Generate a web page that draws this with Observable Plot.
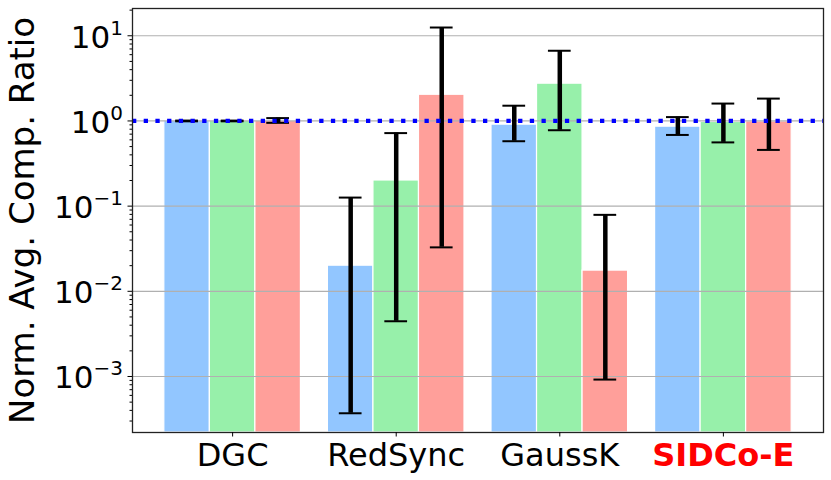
<!DOCTYPE html>
<html><head><meta charset="utf-8">
<script src="https://cdn.jsdelivr.net/npm/d3@7"></script>
<script src="https://cdn.jsdelivr.net/npm/@observablehq/plot@0.6"></script>
<style>body{margin:0;background:#fff;}</style>
</head><body><div id="chart"></div>
<script>
// ---- data ----
const groups = ["DGC", "RedSync", "GaussK", "SIDCo-E"];
const highlightGroup = "SIDCo-E";
const seriesNames = ["Series A", "Series B", "Series C"];
const seriesColors = ["#92C6FF", "#97F0AA", "#FF9F9A"];
const valuesA = [1.0, 0.02, 0.905, 0.857];
const valuesB = [1.0, 0.2, 2.74, 0.973];
const valuesC = [1.0, 2.03, 0.0175, 0.99];
const lowA = [0.99, 0.00037, 0.578, 0.685];
const highA = [1.01, 0.126, 1.51, 1.11];
const lowB = [0.99, 0.00445, 0.778, 0.56];
const highB = [1.01, 0.72, 6.67, 1.6];
const lowC = [0.95, 0.0328, 0.00092, 0.457];
const highC = [1.08, 12.5, 0.079, 1.83];
const yMajorTicks = [1e-3, 1e-2, 1e-1, 1e0, 1e1];
const referenceLevel = 1;
const yLabel = "Norm. Avg. Comp. Ratio";

// ---- build table ----
const seriesValues = [valuesA, valuesB, valuesC];
const seriesLow = [lowA, lowB, lowC];
const seriesHigh = [highA, highB, highC];
const rows = [];
groups.forEach((g, gi) => {
  seriesNames.forEach((s, si) => {
    rows.push({group: g, gi, series: s, si, value: seriesValues[si][gi], low: seriesLow[si][gi], high: seriesHigh[si][gi]});
  });
});

const yDomain = [2.2e-4, 20.9];
const step = 0.2783;
const capHalf = 0.0695;
const center = d => d.gi + (d.si - 1) * step;
const minorTicks = [];
for (let e = -4; e <= 1; e++) for (let m = 2; m <= 9; m++) {
  const v = m * Math.pow(10, e);
  if (v >= yDomain[0] && v <= yDomain[1]) minorTicks.push(v);
}

const chart = Plot.plot({
  width: 831,
  height: 480,
  marginLeft: 132,
  marginRight: 8,
  marginTop: 8,
  marginBottom: 48,
  style: {fontFamily: "DejaVu Sans", background: "white", color: "black"},
  x: {type: "linear", domain: [-0.612, groups.length - 1 + 0.612], axis: null},
  y: {type: "log", domain: yDomain, axis: null},
  color: {domain: seriesNames, range: seriesColors},
  marks: [
    Plot.rectY(rows, {
      x1: d => center(d) - step / 2,
      x2: d => center(d) + step / 2,
      y1: yDomain[0],
      y2: "value",
      fill: "series",
      stroke: "white",
      strokeWidth: 1.2
    }),
    Plot.gridY({ticks: yMajorTicks, stroke: "#b0b0b0", strokeOpacity: 1, strokeWidth: 1.2}),
    Plot.ruleX(rows, {x: center, y1: "low", y2: "high", stroke: "black", strokeWidth: 4.5}),
    Plot.ruleY(rows, {x1: d => center(d) - capHalf, x2: d => center(d) + capHalf, y: "low", stroke: "black", strokeWidth: 2}),
    Plot.ruleY(rows, {x1: d => center(d) - capHalf, x2: d => center(d) + capHalf, y: "high", stroke: "black", strokeWidth: 2}),
    Plot.ruleY([referenceLevel], {stroke: "#0000ff", strokeWidth: 4.3, strokeDasharray: "4.3,7.4"}),
    Plot.frame({stroke: "#222", strokeWidth: 1.3}),
    Plot.axisX({ticks: groups.map((_, i) => i), tickFormat: i => groups[i], tickSize: 4.5, tickPadding: 6, fontSize: 32, label: null, stroke: "black"}),
    Plot.axisY({ticks: yMajorTicks, tickSize: 4.5, tickPadding: 5, fontSize: 31, label: null,
      tickFormat: d => String(Math.round(Math.log10(d)))}),
    Plot.axisY({ticks: minorTicks, tickSize: 2.5, tickFormat: () => "", label: null}),
    Plot.text([yLabel], {text: d => d, frameAnchor: "left", rotate: -90, dx: -99, lineAnchor: "bottom", textAnchor: "middle", fontSize: 34, fill: "black"})
  ]
});

const svgSel = d3.select(chart);
svgSel.selectAll('g[aria-label="y-axis tick label"] text').each(function () {
  const t = d3.select(this);
  const e = t.text();
  if (e === "") return;
  t.text(null).attr("dy", null).attr("y", 12);
  t.append("tspan").text("10");
  t.append("tspan").attr("font-size", 20).attr("dy", -13).text(e.replace("-", "\u2212"));
});
svgSel.selectAll('g[aria-label="x-axis tick label"] text').each(function () {
  const t = d3.select(this);
  if (t.text() === highlightGroup) t.attr("fill", "#ff0000").attr("font-weight", "bold");
});
document.getElementById("chart").appendChild(chart);
</script>
</body></html>
